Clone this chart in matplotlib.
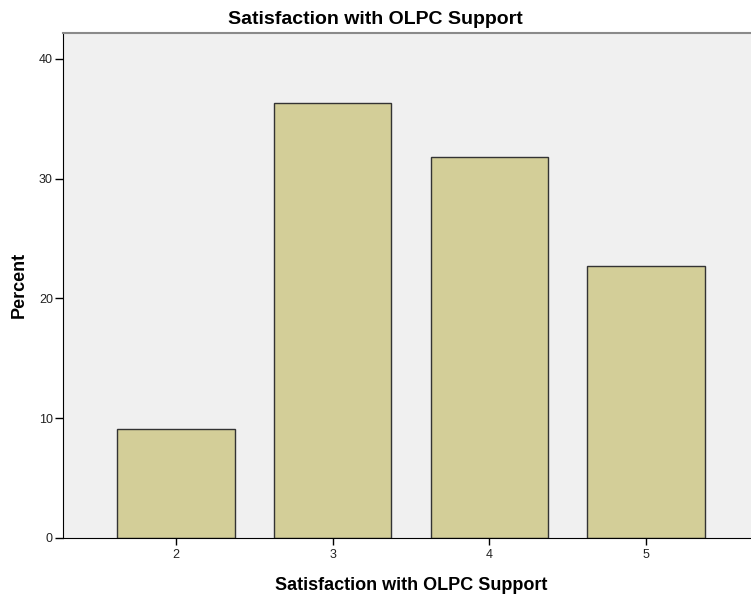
import matplotlib
matplotlib.use("Agg")
import matplotlib.pyplot as plt

# ───── DATA ───────────────────────────────────────────────────
categories = ["2", "3", "4", "5"]
percent = [9.09, 36.36, 31.82, 22.73]
y_ticks = [0, 10, 20, 30, 40]
title = "Satisfaction with OLPC Support"
x_label = "Satisfaction with OLPC Support"
y_label = "Percent"
# ──────────────────────────────────────────────────────────────

plt.rcParams["font.family"] = ["Liberation Sans", "DejaVu Sans"]

W, H = 751, 594
fig = plt.figure(figsize=(W / 100, H / 100), dpi=100)
# plot area runs past the right edge, as in the cropped reference
ax = fig.add_axes([63 / W, 56 / H, 696 / W, 505 / H])
ax.set_facecolor("#f0f0f0")

x = list(range(2, 2 + len(categories)))
ax.bar(x, percent, width=0.75, color="#d3ce98", edgecolor="#333333", linewidth=1.0, zorder=2)

ax.set_xlim(1.278, 5.722)
ax.set_ylim(0, 42.17)
ax.set_xticks(x)
ax.set_xticklabels(categories)
ax.set_yticks(y_ticks)

ax.spines["right"].set_visible(False)
ax.spines["top"].set_color("#8a8a8a")
ax.spines["top"].set_linewidth(1.5)
ax.spines["left"].set_color("black")
ax.spines["bottom"].set_color("black")
ax.tick_params(axis="y", direction="out", length=5.8, width=1, labelsize=9, pad=1.5, colors="black")
ax.tick_params(axis="x", direction="out", length=5.2, width=1, labelsize=9, pad=2.5, colors="black")
for lbl in ax.get_xticklabels() + ax.get_yticklabels():
    lbl.set_color("#222222")

# titles placed by pixel position (baselines)
fig.text(0.5, 1 - 24.5 / H, title, fontsize=14, fontweight="bold", ha="center", va="baseline")
fig.text(411 / W, 1 - 590.5 / H, x_label, fontsize=13, fontweight="bold", ha="center", va="baseline")
fig.text(24 / W, 1 - 285 / H, y_label, fontsize=13, fontweight="bold", rotation=90,
         rotation_mode="anchor", ha="center", va="baseline")

fig.savefig("out.png", dpi=100)
plt.close(fig)
